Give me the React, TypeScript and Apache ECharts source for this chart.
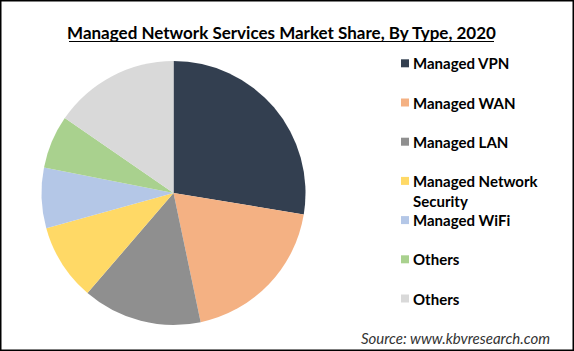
import React, { useEffect, useRef } from "react";
import * as echarts from "echarts";

const categories = [
  "Managed VPN",
  "Managed WAN",
  "Managed LAN",
  "Managed Network\nSecurity",
  "Managed WiFi",
  "Others",
  "Others",
];
const shares = [27.6, 19.1, 14.6, 9.4, 7.4, 6.5, 15.4];
const colors = ["#333f50", "#f4b183", "#8f8f8f", "#ffd966", "#b4c7e7", "#a9d18e", "#d9d9d9"];
const titleText = "Managed Network Services Market Share, By Type, 2020";
const sourceText = "Source: www.kbvresearch.com";

const FONT = "Lato, 'Open Sans', sans-serif";

export default function App() {
  const ref = useRef<HTMLDivElement>(null);
  useEffect(() => {
    if (!ref.current) return;
    const chart = echarts.init(ref.current, null, { renderer: "svg" });
    const legendEls: any[] = [];
    categories.forEach((c, i) => {
      const yc = 63.3 + 39.2 * i;
      legendEls.push({
        type: "rect",
        shape: { x: 401, y: yc - 4, width: 8, height: 8 },
        style: { fill: colors[i] },
      });
      legendEls.push({
        type: "text",
        x: 413,
        y: yc - 10,
        style: {
          text: c,
          fill: "#000",
          font: `bold 15px ${FONT}`,
          lineHeight: 20,
          verticalAlign: "top",
          align: "left",
        },
      });
    });
    chart.setOption({
      animation: false,
      backgroundColor: "#fff",
      series: [
        {
          type: "pie",
          center: [173.5, 193],
          radius: 132,
          startAngle: 90,
          clockwise: true,
          label: { show: false },
          labelLine: { show: false },
          emphasis: { disabled: true },
          data: categories.map((c, i) => ({
            name: c,
            value: shares[i],
            itemStyle: { color: colors[i] },
          })),
        },
      ],
      graphic: [
        {
          type: "rect",
          shape: { x: 0.75, y: 0.75, width: 572.5, height: 349.5 },
          style: { fill: "none", stroke: "#000", lineWidth: 1.5 },
        },
        {
          type: "text",
          x: 281.5,
          y: 32,
          style: {
            text: titleText,
            fill: "#000",
            font: `bold 17px ${FONT}`,
            align: "center",
            verticalAlign: "middle",
          },
        },
        {
          type: "line",
          shape: { x1: 69, y1: 41.5, x2: 494, y2: 41.5 },
          style: { stroke: "#000", lineWidth: 1.2 },
        },
        ...legendEls,
        {
          type: "text",
          x: 550,
          y: 337.5,
          style: {
            text: sourceText,
            fill: "#333",
            font: `italic 15px ${FONT}`,
            align: "right",
            verticalAlign: "middle",
          },
        },
      ],
    });
    return () => chart.dispose();
  }, []);
  return (
    <div
      ref={ref}
      style={{ position: "fixed", left: 0, top: 0, width: 574, height: 351 }}
    />
  );
}
